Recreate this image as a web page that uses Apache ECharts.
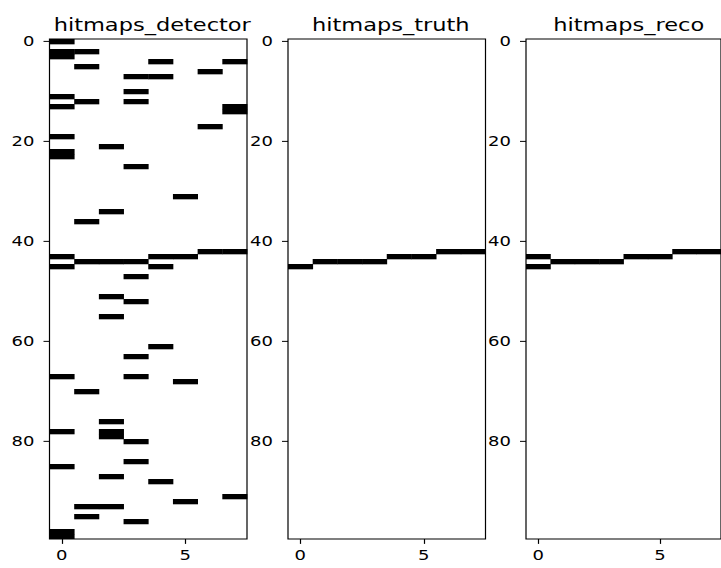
<!DOCTYPE html>
<html>
<head>
<meta charset="utf-8">
<script src="https://cdn.jsdelivr.net/npm/echarts@6/dist/echarts.min.js"></script>
<style>
  html, body { margin: 0; padding: 0; background: #fff; overflow: hidden; }
  #stage { width: 721px; height: 568px; overflow: hidden; }
  /* the figure is laid out taller and squeezed vertically, like the source plot */
  #chart { width: 721px; height: 693px; transform: scaleY(0.8196); transform-origin: 0 0; }
</style>
</head>
<body>
<div id="stage"><div id="chart"></div></div>
<script>
// Three 8 x 100 binary hit maps, drawn as black cells.
const panelTitles = ['hitmaps_detector', 'hitmaps_truth', 'hitmaps_reco'];
const xTicks = [0, 5];
const yTicks = [0, 20, 40, 60, 80];
const nCols = 8;
const nRows = 100;

// Hit cells as [column, row]
const detectorHits = [
  [0, 0],
  [0, 2], [1, 2],
  [0, 3],
  [4, 4], [7, 4],
  [1, 5],
  [6, 6],
  [3, 7], [4, 7],
  [3, 10],
  [0, 11],
  [1, 12], [3, 12],
  [0, 13], [7, 13],
  [7, 14],
  [6, 17],
  [0, 19],
  [2, 21],
  [0, 22],
  [0, 23],
  [3, 25],
  [5, 31],
  [2, 34],
  [1, 36],
  [6, 42], [7, 42],
  [0, 43], [4, 43], [5, 43],
  [1, 44], [2, 44], [3, 44],
  [0, 45], [4, 45],
  [3, 47],
  [2, 51],
  [3, 52],
  [2, 55],
  [4, 61],
  [3, 63],
  [0, 67], [3, 67],
  [5, 68],
  [1, 70],
  [2, 76],
  [0, 78], [2, 78],
  [2, 79],
  [3, 80],
  [3, 84],
  [0, 85],
  [2, 87],
  [4, 88],
  [7, 91],
  [5, 92],
  [1, 93], [2, 93],
  [1, 95],
  [3, 96],
  [0, 98],
  [0, 99]
];
const truthHits = [
  [0, 45], [1, 44], [2, 44], [3, 44], [4, 43], [5, 43], [6, 42], [7, 42]
];
const recoHits = [
  [0, 43], [0, 45], [1, 44], [2, 44], [3, 44], [4, 43], [5, 43], [6, 42], [7, 42]
];
const panelHits = [detectorHits, truthHits, recoHits];

// layout (unscaled coordinates of the chart div)
const panelLeft = [49.5, 288, 526];
const panelWidth = 197.5;
const panelTop = 47.6;
const panelHeight = 610;
const FONT = 'DejaVu Sans';

const chart = echarts.init(document.getElementById('chart'), null, { renderer: 'svg' });

function cellRenderer(params, api) {
  const c = api.value(0), r = api.value(1);
  const p0 = api.coord([c - 0.5, r - 0.5]);
  const p1 = api.coord([c + 0.5, r + 0.5]);
  return {
    type: 'rect',
    shape: {
      x: p0[0],
      y: p0[1],
      width: p1[0] - p0[0] + 0.4,
      height: p1[1] - p0[1] + 0.4
    },
    style: { fill: '#000' }
  };
}

const option = {
  animation: false,
  backgroundColor: '#fff',
  title: panelTitles.map((t, i) => ({
    text: t,
    left: panelLeft[i] + panelWidth / 2 - 1,
    top: 14,
    textAlign: 'center',
    textStyle: { fontFamily: FONT, fontSize: 22.5, fontWeight: 'normal', color: '#000' }
  })),
  grid: panelLeft.map(l => ({
    left: l, top: panelTop, width: panelWidth, height: panelHeight,
    show: true, borderColor: '#000', borderWidth: 1.2, backgroundColor: '#fff'
  })),
  xAxis: panelLeft.map((l, i) => ({
    type: 'value', gridIndex: i, min: -0.5, max: nCols - 0.5,
    position: 'bottom',
    axisLine: { show: false, onZero: false },
    splitLine: { show: false },
    axisTick: { show: true, inside: false, customValues: xTicks, length: 6, lineStyle: { color: '#000', width: 1.2 } },
    axisLabel: { customValues: xTicks, fontFamily: FONT, fontSize: 18, color: '#000', margin: 11 }
  })),
  yAxis: panelLeft.map((l, i) => ({
    type: 'value', gridIndex: i, inverse: true, min: -0.5, max: nRows - 0.5,
    position: 'left',
    axisLine: { show: false, onZero: false },
    splitLine: { show: false },
    axisTick: { show: true, inside: false, customValues: yTicks, length: 6, lineStyle: { color: '#000', width: 1.2 } },
    axisLabel: { customValues: yTicks, fontFamily: FONT, fontSize: 18, color: '#000', margin: 15 }
  })),
  series: panelHits.map((hits, i) => ({
    type: 'custom',
    xAxisIndex: i,
    yAxisIndex: i,
    renderItem: cellRenderer,
    clip: true,
    data: hits
  }))
};

chart.setOption(option);
</script>
</body>
</html>
